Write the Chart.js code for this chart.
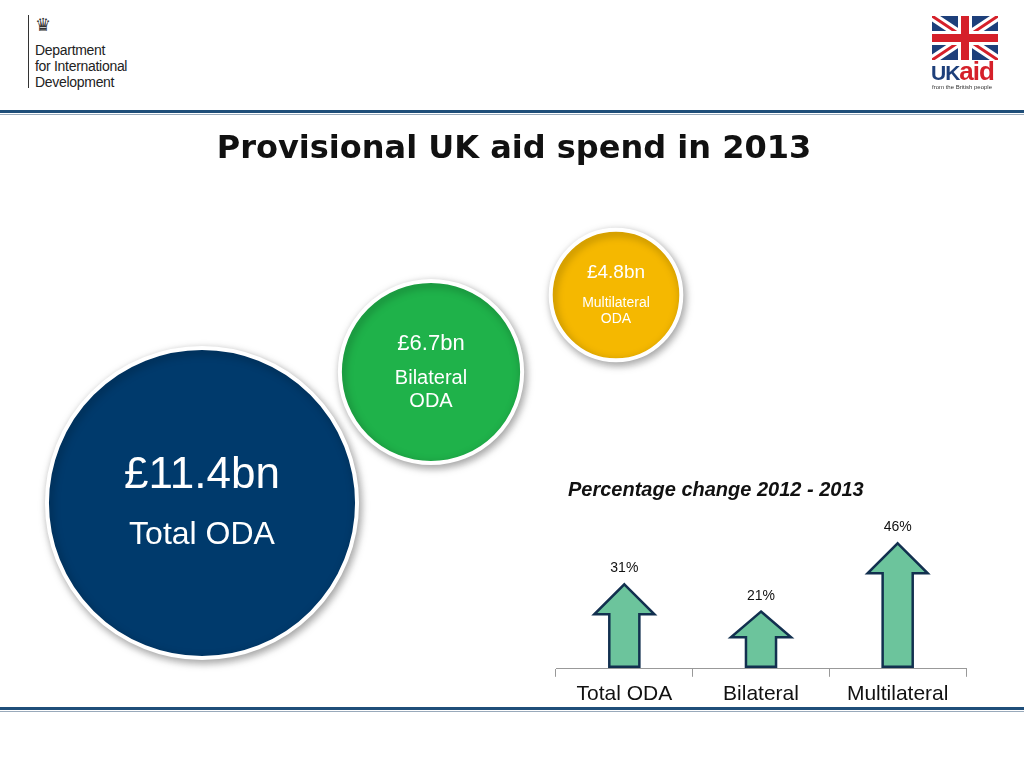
<!DOCTYPE html>
<html><head><meta charset="utf-8">
<script src="https://cdn.jsdelivr.net/npm/chart.js"></script>
<style>
body{margin:0;width:1024px;height:768px;background:#fff;position:relative;overflow:hidden;font-family:"Liberation Sans",Arial,sans-serif}
.abs{position:absolute}
.t{position:absolute;text-align:center;transform:translateX(-50%);white-space:nowrap;z-index:5}
</style></head><body>
<div class="abs" style="left:28px;top:15px;width:1px;height:73px;background:#333"></div>
<div class="abs" style="left:35px;top:14px;font-size:18px;color:#333">&#9819;</div>
<div class="abs" style="left:35px;top:42px;font-size:14px;line-height:16px;color:#222;letter-spacing:-0.3px">Department<br>for International<br>Development</div>
<canvas id="flag" class="abs" width="66" height="44" style="left:932px;top:16px"></canvas>
<div class="abs" style="left:931px;top:56px;font-size:26px;font-weight:bold;letter-spacing:-1px"><span style="color:#1d3f7a;font-size:21px">UK</span><span style="color:#d5202a">aid</span></div>
<div class="abs" style="left:932px;top:84px;font-size:6px;color:#333">from the British people</div>
<div class="abs" style="left:0;top:110px;width:1024px;height:3px;background:#1f4e79"></div>
<div class="abs" style="left:0;top:114px;width:1024px;height:1px;background:#9ab"></div>
<div class="abs" style="left:0;top:707px;width:1024px;height:3px;background:#1f4e79"></div>
<div class="abs" style="left:0;top:711px;width:1024px;height:1px;background:#9ab"></div>
<div class="t" style="left:514px;top:128px;font-size:32px;font-weight:bold;color:#111;font-family:'DejaVu Sans',Verdana,sans-serif">Provisional UK aid spend in 2013</div>
<canvas id="bub" class="abs" width="1024" height="768" style="left:0;top:0"></canvas>
<div class="t" style="left:202px;top:448px;font-size:44px;color:#fff">£11.4bn</div>
<div class="t" style="left:202px;top:515px;font-size:32px;color:#fff">Total ODA</div>
<div class="t" style="left:431px;top:330px;font-size:22px;color:#fff">£6.7bn</div>
<div class="t" style="left:431px;top:366px;font-size:20px;line-height:23px;color:#fff">Bilateral<br>ODA</div>
<div class="t" style="left:616px;top:261px;font-size:19px;color:#fff">£4.8bn</div>
<div class="t" style="left:616px;top:294px;font-size:14px;line-height:16px;color:#fff">Multilateral<br>ODA</div>
<div class="abs" style="left:568px;top:478px;font-size:20px;font-weight:bold;font-style:italic;color:#111;z-index:5">Percentage change 2012 - 2013</div>
<div class="abs" style="left:546px;top:497px;width:430px;height:215px"><canvas id="bar"></canvas></div>
<script>
(function(){const c=document.getElementById('flag').getContext('2d');const w=66,h=44;
c.fillStyle='#1d3f7a';c.fillRect(0,0,w,h);
c.strokeStyle='#fff';c.lineWidth=9;c.beginPath();c.moveTo(0,0);c.lineTo(w,h);c.moveTo(w,0);c.lineTo(0,h);c.stroke();
c.strokeStyle='#d5202a';c.lineWidth=3;c.stroke();
c.fillStyle='#fff';c.fillRect(26,0,14,h);c.fillRect(0,15,w,14);
c.fillStyle='#d5202a';c.fillRect(29,0,8,h);c.fillRect(0,18,w,8);})();

const bubbleLabels=['Total ODA','Bilateral ODA','Multilateral ODA'];
const bubbleValues=[11.4,6.7,4.8];
const bubbleColors=['#003a6c','#1fb24a','#f5b800'];
const bubbleCenterX=[202,431,616];
const bubbleCenterY=[503,372,295];
const radiusPerBn=13.6;

const categories=['Total ODA','Bilateral','Multilateral'];
const pctChange=[31,21,46];
const pctLabels=['31%','21%','46%'];

const shadow={id:'shadow',beforeDatasetsDraw(ch){ch.ctx.save();ch.ctx.shadowColor='rgba(0,0,0,0.35)';ch.ctx.shadowBlur=8;ch.ctx.shadowOffsetX=2;ch.ctx.shadowOffsetY=3;},afterDatasetsDraw(ch){ch.ctx.restore();}};
const bub=new Chart(document.getElementById('bub'),{type:'bubble',
 data:{datasets:[{data:bubbleValues.map((v,i)=>({x:bubbleCenterX[i],y:bubbleCenterY[i],r:v*radiusPerBn})),
  backgroundColor:bubbleColors,borderColor:'#fff',borderWidth:4,clip:false}]},
 options:{responsive:false,animation:false,layout:{padding:0},plugins:{legend:{display:false},tooltip:{enabled:false}},
  scales:{x:{type:'linear',min:0,max:1024,display:false},y:{type:'linear',min:0,max:768,reverse:true,display:false}}},
 plugins:[shadow]});
const ca=bub.chartArea;
bub.options.scales.x.min=ca.left;bub.options.scales.x.max=ca.right;
bub.options.scales.y.min=ca.top;bub.options.scales.y.max=ca.bottom;
bub.update();

const arrows={id:'arrows',afterDatasetsDraw(ch){const ctx=ch.ctx;const meta=ch.getDatasetMeta(0);
 meta.data.forEach((b,i)=>{const w=b.width,x=b.x,top=b.y,base=b.base;const hh=Math.min(30,(base-top)*0.45);const sw=w*0.5;
  ctx.beginPath();ctx.moveTo(x,top);ctx.lineTo(x+w/2,top+hh);ctx.lineTo(x+sw/2,top+hh);ctx.lineTo(x+sw/2,base-2);
  ctx.lineTo(x-sw/2,base-2);ctx.lineTo(x-sw/2,top+hh);ctx.lineTo(x-w/2,top+hh);ctx.closePath();
  ctx.fillStyle='#6cc49c';ctx.fill();ctx.lineWidth=2.5;ctx.strokeStyle='#12304f';ctx.lineJoin='miter';ctx.stroke();
  ctx.fillStyle='#111';ctx.font='14px "Liberation Sans", Arial';ctx.textAlign='center';ctx.fillText(pctLabels[i],x,top-12);});}};
new Chart(document.getElementById('bar'),{type:'bar',
 data:{labels:categories,datasets:[{data:pctChange,backgroundColor:'rgba(0,0,0,0)',barPercentage:0.44,categoryPercentage:1}]},
 options:{responsive:true,maintainAspectRatio:false,animation:false,layout:{padding:{left:10,right:10,top:0,bottom:0}},
  plugins:{legend:{display:false},tooltip:{enabled:false}},
  scales:{x:{grid:{offset:true,drawOnChartArea:false,tickLength:8,color:'#999'},border:{color:'#999'},
   ticks:{color:'#111',font:{size:21,family:'"Liberation Sans", Arial'},padding:5}},
   y:{display:false,min:0,max:63}}},
 plugins:[arrows]});
</script></body></html>
